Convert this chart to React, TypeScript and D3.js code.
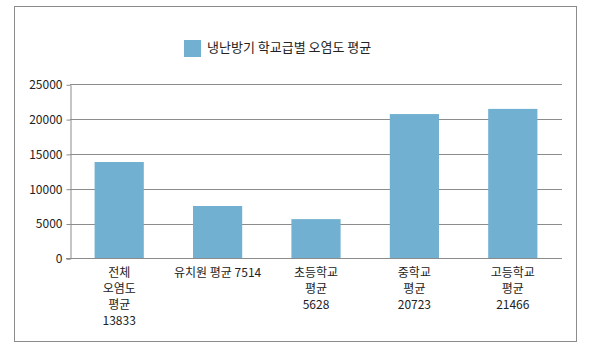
import { useEffect, useRef } from "react";
import * as d3 from "d3";

const categories = ["전체 오염도 평균 13833", "유치원 평균 7514", "초등학교 평균 5628", "중학교 평균 20723", "고등학교 평균 21466"];
const labelLines = [
  ["전체", "오염도", "평균", "13833"],
  ["유치원  평균  7514"],
  ["초등학교", "평균", "5628"],
  ["중학교", "평균", "20723"],
  ["고등학교", "평균", "21466"],
];
const values = [13833, 7514, 5628, 20723, 21466];
const yTicks = [0, 5000, 10000, 15000, 20000, 25000];
const seriesName = "냉난방기 학교급별 오염도 평균";

const barColor = "#71b0d0";
const font = "'Noto Sans CJK KR', 'Noto Sans', sans-serif";

export default function App() {
  const ref = useRef<SVGSVGElement>(null);

  useEffect(() => {
    const svg = d3.select(ref.current);
    svg.selectAll("*").remove();

    const left = 70, right = 562, top = 84.3, bottom = 258.3;

    const x = d3.scaleBand().domain(categories).range([left, right]).paddingInner(0.5).paddingOuter(0.25);
    const y = d3.scaleLinear().domain([0, 25000]).range([bottom, top]);

    // outer frame
    svg.append("rect")
      .attr("x", 14.5).attr("y", 6.5).attr("width", 562).attr("height", 335)
      .attr("fill", "white").attr("stroke", "#8c8c8c").attr("stroke-width", 1);

    // legend
    svg.append("rect")
      .attr("x", 184).attr("y", 40).attr("width", 17).attr("height", 17)
      .attr("fill", barColor);
    svg.append("text")
      .attr("x", 207).attr("y", 52)
      .attr("font-family", font).attr("font-size", 13).attr("fill", "#222")
      .text(seriesName);

    // gridlines
    svg.append("g")
      .selectAll("line")
      .data(yTicks.filter((d) => d > 0))
      .join("line")
      .attr("x1", left).attr("x2", right)
      .attr("y1", (d) => Math.round(y(d)) + 0.5).attr("y2", (d) => Math.round(y(d)) + 0.5)
      .attr("stroke", "#8c8c8c");

    // bars
    svg.append("g")
      .selectAll("rect")
      .data(values)
      .join("rect")
      .attr("x", (d, i) => x(categories[i])!)
      .attr("width", x.bandwidth())
      .attr("y", (d) => y(d))
      .attr("height", (d) => bottom - y(d))
      .attr("fill", barColor);

    // y axis
    const yAxis = svg.append("g").attr("transform", `translate(${left + 0.5},0.5)`)
      .call(d3.axisLeft(y).tickValues(yTicks).tickSize(4).tickSizeOuter(0).tickFormat((d) => String(d)));
    yAxis.select(".domain").attr("stroke", "#8c8c8c");
    yAxis.selectAll(".tick line").attr("stroke", "#8c8c8c");
    yAxis.selectAll(".tick text")
      .attr("x", -8)
      .attr("font-family", font).attr("font-size", 12).attr("fill", "#222");

    // x axis line
    svg.append("line")
      .attr("x1", left - 4).attr("x2", right)
      .attr("y1", Math.round(bottom) + 0.5).attr("y2", Math.round(bottom) + 0.5)
      .attr("stroke", "#8c8c8c");

    // x labels
    const lg = svg.append("g");
    labelLines.forEach((lines, i) => {
      const cx = x(categories[i])! + x.bandwidth() / 2;
      lg.append("text")
        .attr("x", cx)
        .attr("text-anchor", "middle")
        .attr("font-family", font).attr("font-size", 12).attr("fill", "#222")
        .selectAll("tspan")
        .data(lines)
        .join("tspan")
        .attr("x", cx)
        .attr("y", (d, j) => 277 + j * 16)
        .text((d) => d);
    });
  }, []);

  return (
    <div style={{ position: "absolute", left: 0, top: 0 }}>
      <svg ref={ref} width={597} height={351} />
    </div>
  );
}
